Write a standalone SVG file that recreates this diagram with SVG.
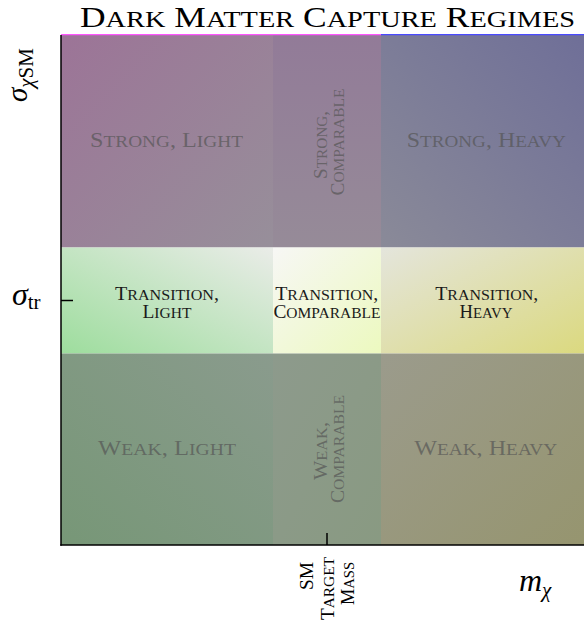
<svg xmlns="http://www.w3.org/2000/svg" width="584" height="625" viewBox="0 0 584 625">
<style>
text{font-family:"Liberation Serif","Times New Roman",serif;}
.sc{font-size:80%;text-transform:uppercase;}
.title{font-size:29px;fill:#000;}
.big{font-size:21px;fill:#555;fill-opacity:0.7;}
.rot{font-size:18.5px;fill:#555;fill-opacity:0.7;}
.tr{font-size:18.5px;fill:#1a1a1a;}
.ax{font-size:18.5px;fill:#000;}
.math{font-size:32px;font-style:italic;fill:#000;}
.mathy{font-size:29px;font-style:italic;fill:#000;}
.sub{font-size:21px;font-style:normal;}
.subi{font-size:21px;font-style:italic;}
.axis{stroke:#000;stroke-width:1.5;fill:none;}
</style>
<defs>
<linearGradient id="gSL" x1="0" y1="0" x2="1" y2="1"><stop offset="0" stop-color="#9c7497"/><stop offset="1" stop-color="#978f9a"/></linearGradient>
<linearGradient id="gSC" x1="0" y1="0" x2="0" y2="1"><stop offset="0" stop-color="#927b98"/><stop offset="1" stop-color="#968b98"/></linearGradient>
<linearGradient id="gSH" x1="1" y1="0" x2="0" y2="1"><stop offset="0" stop-color="#6f6f98"/><stop offset="1" stop-color="#8a8a98"/></linearGradient>
<linearGradient id="gTL" x1="0" y1="1" x2="1" y2="0"><stop offset="0" stop-color="#9ddd9d"/><stop offset="1" stop-color="#eaece8"/></linearGradient>
<linearGradient id="gTC" x1="0" y1="0" x2="1" y2="1"><stop offset="0" stop-color="#f7f7f5"/><stop offset="1" stop-color="#ecf9bf"/></linearGradient>
<linearGradient id="gTH" x1="0" y1="0" x2="1" y2="1"><stop offset="0" stop-color="#e4e5dc"/><stop offset="1" stop-color="#dbd97f"/></linearGradient>
<linearGradient id="gWL" x1="0" y1="1" x2="1" y2="0"><stop offset="0" stop-color="#779777"/><stop offset="1" stop-color="#8a9b8d"/></linearGradient>
<linearGradient id="gWC" x1="0" y1="0" x2="1" y2="1"><stop offset="0" stop-color="#8d9a8c"/><stop offset="1" stop-color="#899a82"/></linearGradient>
<linearGradient id="gWH" x1="0" y1="0" x2="1" y2="1"><stop offset="0" stop-color="#9b9b8c"/><stop offset="1" stop-color="#96956f"/></linearGradient>
</defs>

<text class="title" x="327.5" y="27" text-anchor="middle" textLength="495" lengthAdjust="spacingAndGlyphs">D<tspan class="sc">ark</tspan> M<tspan class="sc">atter</tspan> C<tspan class="sc">apture</tspan> R<tspan class="sc">egimes</tspan></text>

<g id="strong-light">
<rect x="61" y="35" width="212" height="212.5" fill="url(#gSL)"/>
<text class="big" x="166.5" y="147" text-anchor="middle" textLength="153" lengthAdjust="spacingAndGlyphs">S<tspan class="sc">trong</tspan>, L<tspan class="sc">ight</tspan></text>
</g>
<g id="strong-comparable">
<rect x="273" y="35" width="108" height="212.5" fill="url(#gSC)"/>
<g transform="translate(327,142) rotate(-90)">
<text class="rot" x="-3" y="0" text-anchor="middle" textLength="68" lengthAdjust="spacingAndGlyphs">S<tspan class="sc">trong</tspan>,</text>
<text class="rot" x="0" y="17" text-anchor="middle" textLength="107" lengthAdjust="spacingAndGlyphs">C<tspan class="sc">omparable</tspan></text>
</g>
</g>
<g id="strong-heavy">
<rect x="381" y="35" width="203" height="212.5" fill="url(#gSH)"/>
<text class="big" x="486.3" y="147" text-anchor="middle" textLength="159" lengthAdjust="spacingAndGlyphs">S<tspan class="sc">trong</tspan>, H<tspan class="sc">eavy</tspan></text>
</g>

<g id="transition-light">
<rect x="61" y="247.5" width="212" height="106" fill="url(#gTL)"/>
<text class="tr" x="167" y="299.5" text-anchor="middle" textLength="104" lengthAdjust="spacingAndGlyphs">T<tspan class="sc">ransition</tspan>,</text>
<text class="tr" x="167" y="317.5" text-anchor="middle" textLength="49" lengthAdjust="spacingAndGlyphs">L<tspan class="sc">ight</tspan></text>
</g>
<g id="transition-comparable">
<rect x="273" y="247.5" width="108" height="106" fill="url(#gTC)"/>
<text class="tr" x="326.7" y="299.5" text-anchor="middle" textLength="103" lengthAdjust="spacingAndGlyphs">T<tspan class="sc">ransition</tspan>,</text>
<text class="tr" x="326.9" y="317.5" text-anchor="middle" textLength="107" lengthAdjust="spacingAndGlyphs">C<tspan class="sc">omparable</tspan></text>
</g>
<g id="transition-heavy">
<rect x="381" y="247.5" width="203" height="106" fill="url(#gTH)"/>
<text class="tr" x="486.7" y="299.5" text-anchor="middle" textLength="103" lengthAdjust="spacingAndGlyphs">T<tspan class="sc">ransition</tspan>,</text>
<text class="tr" x="486" y="317.5" text-anchor="middle" textLength="53" lengthAdjust="spacingAndGlyphs">H<tspan class="sc">eavy</tspan></text>
</g>

<g id="weak-light">
<rect x="61" y="353.5" width="212" height="191.5" fill="url(#gWL)"/>
<text class="big" x="167" y="455" text-anchor="middle" textLength="138" lengthAdjust="spacingAndGlyphs">W<tspan class="sc">eak</tspan>, L<tspan class="sc">ight</tspan></text>
</g>
<g id="weak-comparable">
<rect x="273" y="353.5" width="108" height="191.5" fill="url(#gWC)"/>
<g transform="translate(327,449) rotate(-90)">
<text class="rot" x="-2" y="0" text-anchor="middle" textLength="58" lengthAdjust="spacingAndGlyphs">W<tspan class="sc">eak</tspan>,</text>
<text class="rot" x="0" y="17" text-anchor="middle" textLength="108" lengthAdjust="spacingAndGlyphs">C<tspan class="sc">omparable</tspan></text>
</g>
</g>
<g id="weak-heavy">
<rect x="381" y="353.5" width="203" height="191.5" fill="url(#gWH)"/>
<text class="big" x="485.7" y="455" text-anchor="middle" textLength="143" lengthAdjust="spacingAndGlyphs">W<tspan class="sc">eak</tspan>, H<tspan class="sc">eavy</tspan></text>
</g>

<g id="connectors">
<line x1="61" y1="34.6" x2="381" y2="34.6" stroke="#ff55ff" stroke-width="1.3"/>
<line x1="381" y1="34.6" x2="584" y2="34.6" stroke="#4a4aff" stroke-width="1.3"/>
<line class="axis" x1="61" y1="35" x2="61" y2="545.7"/>
<line class="axis" x1="60.3" y1="545" x2="584" y2="545"/>
<line class="axis" x1="61" y1="300.5" x2="73" y2="300.5"/>
<line class="axis" x1="327" y1="533" x2="327" y2="545"/>
</g>

<g id="y-label">
<text class="mathy" transform="translate(27,102) rotate(-90)">σ<tspan class="subi" dy="6">χ</tspan><tspan class="sub">SM</tspan></text>
</g>
<g id="y-tick-label">
<text class="math" x="12" y="305">σ<tspan class="sub" dy="4">tr</tspan></text>
</g>
<g id="x-tick-label">
<text class="ax" text-anchor="middle" transform="translate(313,576) rotate(-90)" textLength="28" lengthAdjust="spacingAndGlyphs">SM</text>
<text class="ax" text-anchor="middle" transform="translate(334,588.5) rotate(-90)" textLength="63" lengthAdjust="spacingAndGlyphs">T<tspan class="sc">arget</tspan></text>
<text class="ax" text-anchor="middle" transform="translate(354,583.5) rotate(-90)" textLength="43" lengthAdjust="spacingAndGlyphs">M<tspan class="sc">ass</tspan></text>
</g>
<g id="x-label">
<text class="math" x="519" y="591">m<tspan class="subi" dy="6">χ</tspan></text>
</g>
</svg>
